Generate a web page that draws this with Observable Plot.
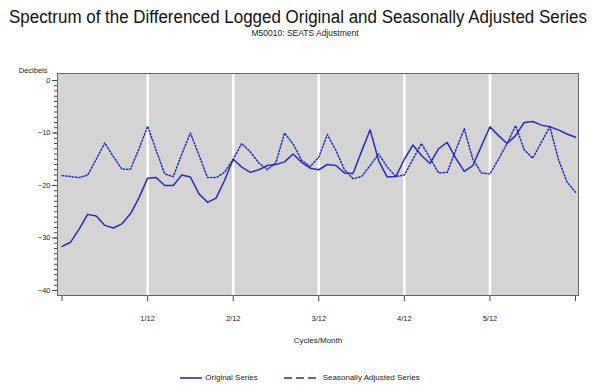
<!DOCTYPE html>
<html>
<head>
<meta charset="utf-8">
<script src="https://cdn.jsdelivr.net/npm/d3@7"></script>
<script src="https://cdn.jsdelivr.net/npm/@observablehq/plot@0.6"></script>
<style>
  html, body { margin: 0; padding: 0; background: #fff; }
  #wrap { position: relative; width: 595px; height: 385px; overflow: hidden; font-family: "Liberation Sans", Arial, sans-serif; color: #222; }
  #titleText { position: absolute; top: 7px; left: 298px; white-space: nowrap; font-size: 18px; line-height: 20px; transform-origin: center; color: #111; }
  #subtitle { position: absolute; top: 28px; left: 0; width: 610px; text-align: center; font-size: 8.5px; line-height: 10px; }
  #chart { position: absolute; top: 42px; left: 0; }
  #legend { position: absolute; top: 373px; left: 0; width: 600px; display: flex; justify-content: center; align-items: center; font-size: 8px; line-height: 10px; }
  #legend .item { display: flex; align-items: center; margin: 0 13px; }
  #legend svg { margin-right: 3px; }
</style>
</head>
<body>
<div id="wrap">
  <span id="titleText">Spectrum of the Differenced Logged Original and Seasonally Adjusted Series</span>
  <div id="subtitle">M50010: SEATS Adjustment</div>
  <div id="chart"></div>
  <div id="legend"></div>
</div>
<script>
// Frequencies: 61 ordinates from 0 to 0.5 cycles/month (index k -> k/120)
const freqIndex = d3.range(61);
const original = [
  -31.6, -30.8, -28.3, -25.5, -25.8, -27.6, -28.1, -27.3, -25.4, -22.3,
  -18.6, -18.5, -20.0, -20.0, -18.0, -18.4, -21.6, -23.2, -22.4, -19.0,
  -15.0, -16.5, -17.5, -17.0, -16.2, -16.0, -15.5, -14.0, -15.6, -16.7,
  -17.0, -16.0, -16.2, -17.6, -17.7, -13.5, -9.4, -15.3, -18.4, -18.3,
  -15.0, -12.3, -14.3, -15.8, -13.0, -11.8, -14.8, -17.3, -16.2, -12.5,
  -8.8, -10.5, -12.0, -10.5, -8.0, -7.8, -8.5, -8.8, -9.4, -10.2, -10.8
];
const seasAdj = [
  -18.1, -18.3, -18.5, -18.0, -15.0, -11.9, -14.5, -16.9, -16.9, -13.0,
  -8.7, -13.3, -17.8, -18.3, -14.0, -10.0, -14.2, -18.5, -18.5, -17.5,
  -15.0, -12.0, -13.6, -15.7, -17.0, -15.6, -10.0, -12.1, -15.2, -16.4,
  -14.6, -10.3, -13.3, -17.0, -18.7, -18.3, -16.2, -14.0, -16.5, -18.3,
  -18.0, -15.0, -12.0, -14.8, -17.6, -17.5, -13.3, -9.2, -15.0, -17.6,
  -17.8, -15.0, -12.0, -8.6, -13.2, -14.8, -11.8, -8.8, -15.0, -19.3, -21.3
];
const xTickValues = [0, 1/12, 2/12, 3/12, 4/12, 5/12, 6/12];
const xTickLabels = ["", "1/12", "2/12", "3/12", "4/12", "5/12", ""];
const gridValues = [1/12, 2/12, 3/12, 4/12, 5/12];
const yTickValues = [0, -10, -20, -30, -40];
const yMinorTicks = d3.range(-40, 1, 1);
const seriesNames = ["Original Series", "Seasonally Adjusted Series"];

const blue = "#2b2bbf";
const data = freqIndex.map((k, i) => ({ freq: k / 120, original: original[i], seasAdj: seasAdj[i] }));

const chart = Plot.plot({
  width: 595,
  height: 313,
  marginTop: 31,
  marginBottom: 60,
  marginLeft: 57,
  marginRight: 17,
  style: { fontFamily: "Liberation Sans, Arial, sans-serif", fontSize: "7.5px", color: "#222", background: "transparent", overflow: "visible" },
  x: { domain: [-0.0044, 0.5029] },
  y: { domain: [-40.95, 1.33] },
  marks: [
    Plot.frame({ fill: "#d4d4d4", stroke: null }),
    Plot.ruleX(gridValues, { stroke: "#ffffff", strokeWidth: 2.5 }),
    Plot.axisY(yMinorTicks, { tickSize: 3, tickFormat: () => "", label: null, stroke: "#444" }),
    Plot.axisY(yTickValues, { tickSize: 5, tickPadding: 2, label: null, stroke: "#444", fill: "#222" }),
    Plot.axisX(xTickValues, { tickSize: 6, tickPadding: 14, tickFormat: (d, i) => xTickLabels[i], label: null, stroke: "#444", fill: "#222" }),
    Plot.line(data, { x: "freq", y: "original", stroke: blue, strokeWidth: 1.5 }),
    Plot.line(data, { x: "freq", y: "seasAdj", stroke: blue, strokeWidth: 1.5, strokeDasharray: "1.4,2" }),
    Plot.frame({ stroke: "#666", strokeWidth: 1 }),
    Plot.text(["Decibels"], { frameAnchor: "top-left", text: d => d, dx: -10, dy: -6, textAnchor: "end", fontSize: 7.5, fill: "#222" }),
    Plot.text(["Cycles/Month"], { frameAnchor: "bottom", text: d => d, dy: 47, fontSize: 8, fill: "#222" })
  ]
});
document.getElementById("chart").appendChild(chart);

// Legend
const legend = document.getElementById("legend");
seriesNames.forEach((name, i) => {
  const item = document.createElement("div");
  item.className = "item";
  const w = i === 0 ? 22 : 36;
  const dash = i === 0 ? "" : ` stroke-dasharray="8,4"`;
  item.innerHTML = `<svg width="${w}" height="6"><line x1="0" y1="3" x2="${w}" y2="3" stroke="${blue}" stroke-width="1.6"${dash}/></svg><span>${name}</span>`;
  legend.appendChild(item);
});

// Fit title width to the reference's span, centred on the page
const t = document.getElementById("titleText");
const tw = t.getBoundingClientRect().width;
t.style.transform = `translateX(-50%) scaleX(${578 / tw})`;
</script>
</body>
</html>
